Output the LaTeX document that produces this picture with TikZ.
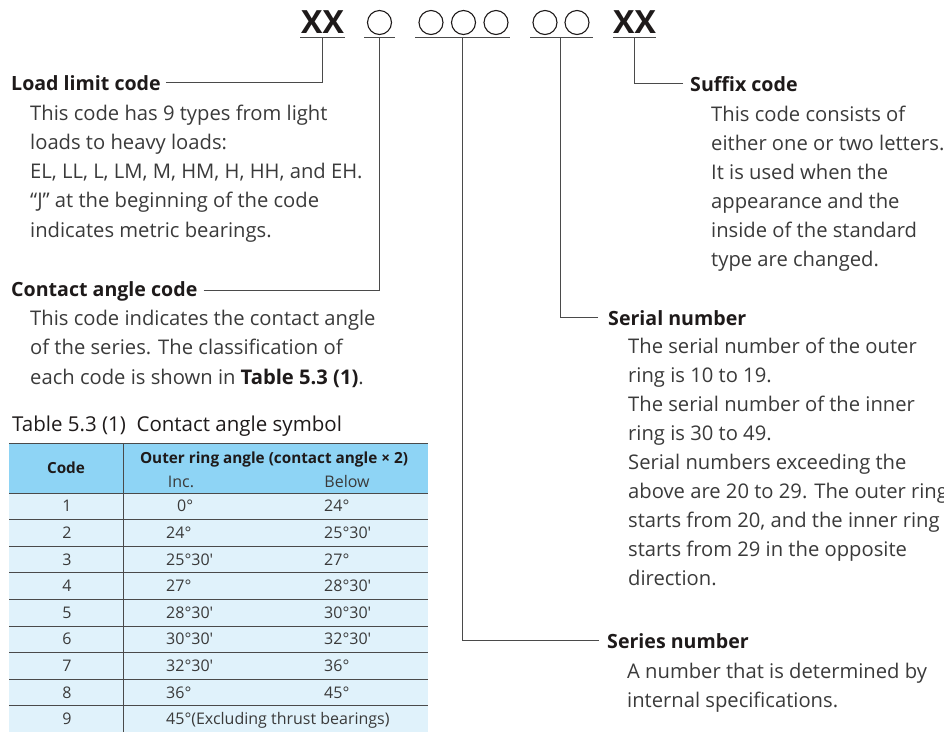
\documentclass[tikz,border=0pt]{standalone}
\usepackage{fontspec}
\setmainfont{Open Sans}
\definecolor{txt}{HTML}{3A3A3A}
\definecolor{hd}{HTML}{1E1A1A}
\definecolor{ln}{HTML}{4A4A4A}
\definecolor{hdr}{HTML}{8ED4F5}
\definecolor{rowc}{HTML}{E0F2FB}
\begin{document}
\begin{tikzpicture}[x=1pt,y=-1pt,
  body/.style={anchor=base west,inner sep=0,text=txt,font=\fontsize{20.2}{23}\selectfont},
  head/.style={anchor=base west,inner sep=0,text=hd,font=\fontsize{19.6}{23}\selectfont\bfseries},
  codetxt/.style={anchor=base,inner sep=0,text=hd,font=\fontsize{32}{36}\selectfont\bfseries},
  circ/.style={circle,draw=hd,line width=1.1pt,minimum size=24pt,inner sep=0},
  conn/.style={draw=ln,line width=0.9pt},
  uline/.style={draw=ln,line width=1pt},
  cellc/.style={anchor=base,inner sep=0,text=txt,font=\fontsize{16}{18}\selectfont},
  celll/.style={anchor=base west,inner sep=0,text=txt,font=\fontsize{16}{18}\selectfont},
  cellh/.style={anchor=base,inner sep=0,text=hd,font=\fontsize{15.3}{18}\selectfont\bfseries},
  tline/.style={draw=ln,line width=0.9pt}]
\useasboundingbox (0,0) rectangle (944,732);
% ---- code symbols
\node[codetxt] (xa) at (322.5,33) {XX};
\node[circ] (c1) at (379.5,22.5) {};
\node[circ] (c2) at (431,22.5) {};
\node[circ] (c3) at (463.5,22.5) {};
\node[circ] (c4) at (496,22.5) {};
\node[circ] (c5) at (545,22.5) {};
\node[circ] (c6) at (577,22.5) {};
\node[codetxt] (xb) at (634.5,33) {XX};
\draw[uline] (300,37) -- (345,37);
\draw[uline] (364,37) -- (395,37);
\draw[uline] (415,37) -- (510,37);
\draw[uline] (530,37) -- (593,37);
\draw[uline] (613,37) -- (656,37);
\coordinate (u1) at (322,37);
\coordinate (u2) at (379,37);
\coordinate (u3) at (462,37);
\coordinate (u4) at (560,37);
\coordinate (u5) at (634,37);
% ---- headings
\node[head] (hLoad) at (11,90) {Load limit code};
\node[head] (hCont) at (11,296) {Contact angle code};
\node[head] (hSuf) at (690,91) {Suffix code};
\node[head] (hSer) at (608,325) {Serial number};
\node[head] (hSeries) at (607,648) {Series number};
% ---- connectors
\draw[conn] ([xshift=5pt]hLoad.east) -| (u1);
\draw[conn] ([xshift=6pt]hCont.east) -| (u2);
\draw[conn] ([xshift=-8pt]hSeries.west) -| (u3);
\draw[conn] ([xshift=-10pt]hSer.west) -| (u4);
\draw[conn] ([xshift=-7pt]hSuf.west) -| (u5);
% ---- body texts
\foreach \t [count=\i] in {This code has 9 types from light,loads to heavy loads:,{EL, LL, L, LM, M, HM, H, HH, and EH.},“J” at the beginning of the code,indicates metric bearings.}
  \node[body,name=ll\i] at (30,{120+(\i-1)*29.3}) {\t};
\foreach \t [count=\i] in {This code indicates the contact angle,{of the series. The classification of},{each code is shown in \textbf{\color{hd}Table 5.3 (1)}.}}
  \node[body,name=ca\i] at (30,{325+(\i-1)*29.5}) {\t};
\foreach \t [count=\i] in {This code consists of,either one or two letters.,It is used when the,appearance and the,inside of the standard,type are changed.}
  \node[body,name=sf\i] at (711,{121+(\i-1)*29}) {\t};
\foreach \t [count=\i] in {The serial number of the outer,ring is 10 to 19.,The serial number of the inner,ring is 30 to 49.,Serial numbers exceeding the,{above are 20 to 29. The outer ring},{starts from 20, and the inner ring},starts from 29 in the opposite,direction.}
  \node[body,name=sn\i] at (628,{353+(\i-1)*29}) {\t};
\foreach \t [count=\i] in {A number that is determined by,internal specifications.}
  \node[body,name=se\i] at (627,{678+(\i-1)*29}) {\t};
% ---- table
\node[anchor=base west,inner sep=0,text=hd,font=\fontsize{20.5}{23}\selectfont] (ttl) at (12,431) {Table 5.3 (1)\ \ Contact angle symbol};
\fill[hdr] (9,443) rectangle (428,493);
\fill[rowc] (9,493) rectangle (428,732);
\draw[tline] (9,443) -- (428,443);
\foreach \i in {0,...,8}
  \draw[tline] (9,{493+26.6*\i}) -- (428,{493+26.6*\i});
\draw[tline] (123,443) -- (123,732);
\node[cellh] (hcode) at (66,473) {Code};
\node[cellh] (hout) at (274,463) {Outer ring angle (contact angle × 2)};
\node[cellc] (hinc) at (181,487) {Inc.};
\node[cellc] (hbel) at (347,487) {Below};
\foreach \c/\a/\b [count=\i] in {1/0°/24°,2/24°/25°30′,3/25°30′/27°,4/27°/28°30′,5/28°30′/30°30′,6/30°30′/32°30′,7/32°30′/36°,8/36°/45°}{
  \node[cellc,name=rc\i] at (67,{493+26.6*(\i-0.5)+5.5}) {\c};
  \node[celll,name=ri\i] at ({\i==1 ? 177 : 166},{493+26.6*(\i-0.5)+5.5}) {\a};
  \node[celll,name=rb\i] at (324,{493+26.6*(\i-0.5)+5.5}) {\b};
}
\node[cellc] (rc9) at (67,{493+26.6*8.5+5.5}) {9};
\node[celll] (ri9) at (166,{493+26.6*8.5+5.5}) {45°(Excluding thrust bearings)};
\end{tikzpicture}
\end{document}
